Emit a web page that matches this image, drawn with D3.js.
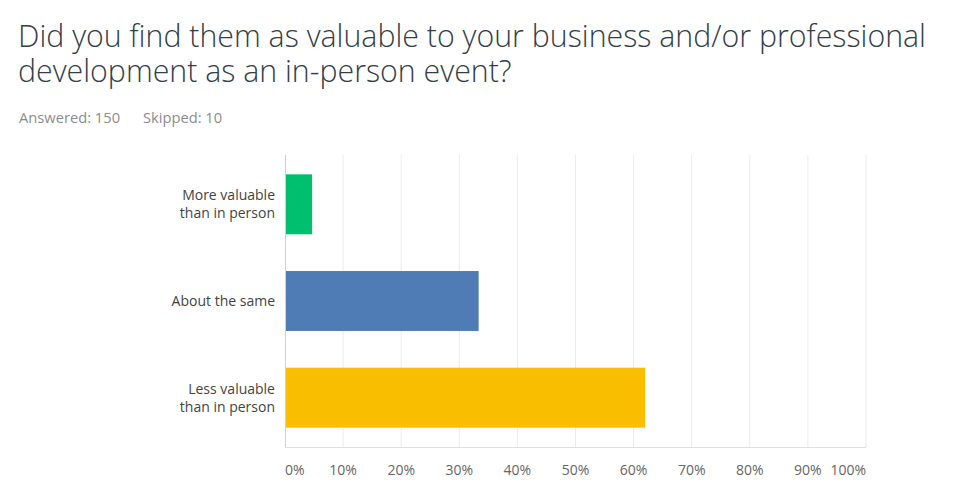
<!DOCTYPE html>
<html>
<head>
<meta charset="utf-8">
<script src="https://cdn.jsdelivr.net/npm/d3@7"></script>
<style>
  body { margin: 0; background: #fff; }
  svg { font-family: "Open Sans", sans-serif; }
</style>
</head>
<body>
<svg width="960" height="497"></svg>
<script>
const titleLines = ["Did you find them as valuable to your business and/or professional",
                    "development as an in-person event?"];
const answered = 150;
const skipped = 10;

const categories = [["More valuable", "than in person"], ["About the same"], ["Less valuable", "than in person"]];
const values = [4.67, 33.33, 62.00];
const colors = ["#00bf6f", "#507cb6", "#f9be00"];
const ticks = [0, 10, 20, 30, 40, 50, 60, 70, 80, 90, 100];

const svg = d3.select("svg");
const margin = { left: 285, right: 94, top: 155, bottom: 50 };
const W = 960, H = 497;

// title, one text element with a tspan per line
svg.append("text")
  .attr("font-size", 30.3)
  .attr("font-weight", 300)
  .attr("fill", "#333e48")
  .selectAll("tspan")
  .data(titleLines)
  .join("tspan")
  .attr("x", 18)
  .attr("y", (d, i) => 47 + i * 35)
  .text(d => d);

svg.append("text").attr("x", 19).attr("y", 123).attr("font-size", 14.7).attr("fill", "#8c8c8c")
  .text("Answered: " + answered);
svg.append("text").attr("x", 143).attr("y", 123).attr("font-size", 14.7).attr("fill", "#8c8c8c")
  .text("Skipped: " + skipped);

const x = d3.scaleLinear().domain([0, 100]).range([margin.left, W - margin.right]);
const y = d3.scaleBand().domain(d3.range(categories.length))
  .range([margin.top, H - margin.bottom]).paddingInner(0.38).paddingOuter(0.2);

// gridlines
svg.append("g").selectAll("line")
  .data(ticks.slice(1))
  .join("line")
  .attr("x1", d => x(d)).attr("x2", d => x(d))
  .attr("y1", margin.top).attr("y2", H - margin.bottom)
  .attr("stroke", "#ececec").attr("stroke-width", 1);

// bottom axis line
svg.append("line")
  .attr("x1", margin.left).attr("x2", x(100))
  .attr("y1", H - margin.bottom + 0.5).attr("y2", H - margin.bottom + 0.5)
  .attr("stroke", "#e0e0e0");

// bars
svg.append("g").selectAll("rect")
  .data(values)
  .join("rect")
  .attr("x", x(0))
  .attr("y", (d, i) => y(i))
  .attr("width", d => x(d) - x(0))
  .attr("height", y.bandwidth())
  .attr("fill", (d, i) => colors[i]);

// left axis line
svg.append("line")
  .attr("x1", margin.left + 0.5).attr("x2", margin.left + 0.5)
  .attr("y1", margin.top).attr("y2", H - margin.bottom)
  .attr("stroke", "#d0d0d0");

// tick labels
svg.append("g").selectAll("text")
  .data(ticks)
  .join("text")
  .attr("x", d => x(d))
  .attr("y", H - margin.bottom + 28)
  .attr("text-anchor", d => d === 0 ? "start" : d === 100 ? "end" : "middle")
  .attr("font-size", 14)
  .attr("fill", "#666")
  .text(d => d + "%");

// category labels
const lab = svg.append("g").selectAll("text")
  .data(categories)
  .join("text")
  .attr("text-anchor", "end")
  .attr("font-size", 14)
  .attr("fill", "#444");
lab.each(function (lines, i) {
  const cy = y(i) + y.bandwidth() / 2;
  const t = d3.select(this);
  lines.forEach((l, j) => {
    t.append("tspan")
      .attr("x", 275)
      .attr("y", cy + 5 + (j - (lines.length - 1) / 2) * 18)
      .text(l);
  });
});
</script>
</body>
</html>
